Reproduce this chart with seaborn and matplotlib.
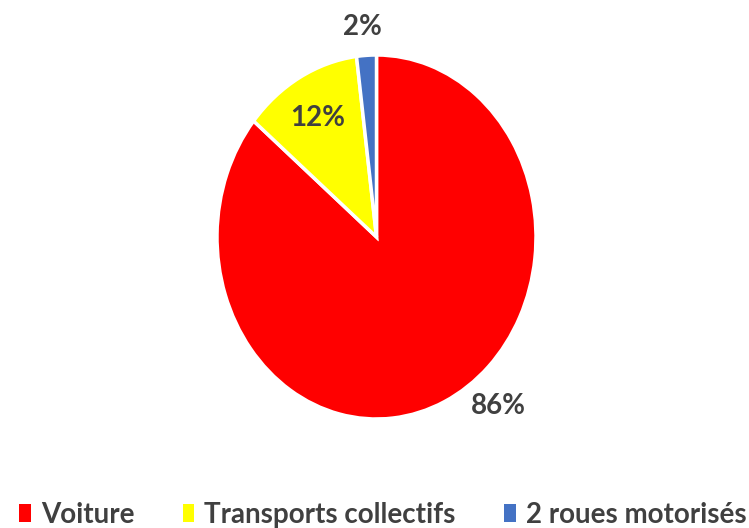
import matplotlib
matplotlib.use("Agg")
import matplotlib.pyplot as plt
from matplotlib.patches import Patch
import numpy as np
import seaborn as sns

# Répartition modale des déplacements
categories = ["Voiture", "Transports collectifs", "2 roues motorisés"]
parts = [86, 12, 2]
labels = ["86%", "12%", "2%"]
colors = ["#FF0000", "#FFFF00", "#4472C4"]

sns.set_theme(style="white")
plt.rcParams["font.family"] = ["Lato", "DejaVu Sans"]

fig = plt.figure(figsize=(7.49, 5.28), dpi=100)
fig.patch.set_facecolor("white")

# pie drawn in an axes slightly taller than wide (elliptical pie)
ax = fig.add_axes([217 / 749, (528 - 419) / 528, 319 / 749, 364 / 528])
wedges, _ = ax.pie(
    parts,
    colors=colors,
    startangle=90,
    counterclock=False,
    wedgeprops=dict(edgecolor="white", linewidth=2.5),
    radius=1.0,
)
ax.set_aspect("auto")
ax.set_xlim(-1, 1)
ax.set_ylim(-1, 1)
ax.axis("off")

# label placement: (angle in degrees, distance from centre)
label_pos = [(-50.5, 1.20), (119.5, 0.75), (94.5, 1.155)]
for lab, (ang, dist) in zip(labels, label_pos):
    t = np.deg2rad(ang)
    ax.text(dist * np.cos(t), dist * np.sin(t), lab, ha="center", va="center",
            fontsize=20, fontweight="bold", color="#404040")

handles = [Patch(facecolor=c, edgecolor="none") for c in colors]
leg = fig.legend(
    handles, categories,
    loc="center", bbox_to_anchor=(0.511, 0.025),
    ncol=3, frameon=False,
    handlelength=0.43, handleheight=0.58, handletextpad=0.36,
    columnspacing=1.73, borderpad=0, borderaxespad=0,
    prop=dict(size=20, weight="bold"),
)
for txt in leg.get_texts():
    txt.set_color("#404040")

fig.savefig("out.png", dpi=100, facecolor="white")
